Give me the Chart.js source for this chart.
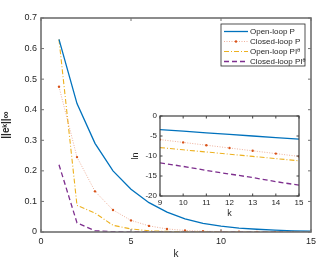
<!DOCTYPE html>
<html>
<head>
<meta charset="utf-8">
<script src="https://cdn.jsdelivr.net/npm/chart.js@4.4.1/dist/chart.umd.min.js"></script>
<style>
  body { margin: 0; background: #fff; }
  #wrap { position: relative; width: 323px; height: 264px; }
  #mainChart { position: absolute; left: 0; top: 0; }
  #insetChart { position: absolute; left: 130px; top: 105px; }
</style>
</head>
<body>
<div id="wrap">
  <canvas id="mainChart" width="323" height="264"></canvas>
  <canvas id="insetChart" width="180" height="115"></canvas>
</div>
<script>
// main plot, k = 1..15
const kValues = [1, 2, 3, 4, 5, 6, 7, 8, 9, 10, 11, 12, 13, 14, 15];
const openLoopP = [0.63, 0.42, 0.29, 0.20, 0.14, 0.096, 0.065, 0.043, 0.028, 0.019, 0.013, 0.009, 0.006, 0.004, 0.003];
const closedLoopP = [0.475, 0.245, 0.133, 0.072, 0.038, 0.02, 0.01, 0.005, 0.0025, 0.0012, 0.0006, 0.0003, 0.00015, 0.0001, 0.00005];
const openLoopPI = [0.63, 0.087, 0.062, 0.022, 0.01, 0.004, 0.002, 0.001, 0.0004, 0.0002, 0.0001, 0.00005, 0.00003, 0.00002, 0.00001];
const closedLoopPI = [0.22, 0.03, 0.004, 0.001, 0.0003, 0.0001, 0.00003, 0.00001, 0, 0, 0, 0, 0, 0, 0];

// inset, ln of the error for k = 9..15
const insetK = [9, 10, 11, 12, 13, 14, 15];
const lnOpenLoopP = [-3.4, -3.8, -4.2, -4.6, -5.0, -5.4, -5.8];
const lnClosedLoopP = [-5.9, -6.6, -7.3, -8.0, -8.7, -9.4, -10.1];
const lnOpenLoopPI = [-7.9, -8.45, -9.0, -9.55, -10.1, -10.65, -11.2];
const lnClosedLoopPI = [-11.7, -12.6, -13.6, -14.5, -15.4, -16.4, -17.3];

const seriesNames = ['Open-loop P', 'Closed-loop P', 'Open-loop PIᶿ', 'Closed-loop PIᶿ'];
const colors = ['#0072BD', 'rgba(224, 110, 70, 0.6)', '#EDB120', '#7E2F8E'];
const markerColors = ['#0072BD', '#D95319', '#EDB120', '#7E2F8E'];
const dashes = [[], [1, 1.5], [5, 2, 1, 2], [5, 3]];
const lineWidths = [1.3, 0.9, 1.1, 1.3];

const FONT = "'Liberation Sans', Arial, sans-serif";
const TEXT = '#262626';

function toPoints(xs, ys) {
  return xs.map((x, i) => ({ x: x, y: ys[i] }));
}

function makeDatasets(xs, lists) {
  return lists.map((ys, i) => ({
    label: seriesNames[i],
    data: toPoints(xs, ys),
    borderColor: colors[i],
    backgroundColor: markerColors[i],
    pointBackgroundColor: markerColors[i],
    borderDash: dashes[i],
    borderWidth: lineWidths[i],
    pointRadius: i === 1 ? 1.2 : 0,
    pointBorderWidth: 0,
    fill: false,
    tension: 0
  }));
}

// axes box with inward ticks on all four sides, like the original figure
const boxPlugin = {
  id: 'box',
  afterDraw(chart, args, opts) {
    const { ctx, chartArea: a, scales: { x, y } } = chart;
    const len = opts.tickLen || 3;
    ctx.save();
    ctx.strokeStyle = opts.color;
    ctx.lineWidth = 1;
    ctx.beginPath();
    x.ticks.forEach(t => {
      const px = x.getPixelForValue(t.value);
      ctx.moveTo(px, a.bottom); ctx.lineTo(px, a.bottom - len);
      ctx.moveTo(px, a.top); ctx.lineTo(px, a.top + len);
    });
    y.ticks.forEach(t => {
      const py = y.getPixelForValue(t.value);
      ctx.moveTo(a.left, py); ctx.lineTo(a.left + len, py);
      ctx.moveTo(a.right, py); ctx.lineTo(a.right - len, py);
    });
    ctx.stroke();
    ctx.lineWidth = opts.width;
    ctx.strokeRect(a.left, a.top, a.right - a.left, a.bottom - a.top);
    ctx.restore();
  }
};

const whiteAreaPlugin = {
  id: 'whiteArea',
  beforeDraw(chart) {
    const { ctx, chartArea: a } = chart;
    ctx.save();
    ctx.fillStyle = '#fff';
    ctx.fillRect(a.left, a.top, a.right - a.left, a.bottom - a.top);
    ctx.restore();
  }
};

const boxLegendPlugin = {
  id: 'boxLegend',
  afterDraw(chart) {
    const ctx = chart.ctx;
    const left = 221, top = 24, w = 84, h = 42;
    ctx.save();
    ctx.fillStyle = '#fff';
    ctx.fillRect(left, top, w, h);
    ctx.strokeStyle = '#262626';
    ctx.lineWidth = 0.8;
    ctx.strokeRect(left, top, w, h);
    ctx.font = '8px ' + FONT;
    ctx.textBaseline = 'middle';
    chart.data.datasets.forEach((ds, i) => {
      const yy = top + 7.5 + i * 10;
      ctx.strokeStyle = ds.borderColor;
      ctx.lineWidth = ds.borderWidth;
      ctx.setLineDash(ds.borderDash);
      ctx.beginPath();
      ctx.moveTo(left + 3, yy);
      ctx.lineTo(left + 27, yy);
      ctx.stroke();
      ctx.setLineDash([]);
      if (ds.pointRadius > 0) {
        ctx.fillStyle = ds.pointBackgroundColor;
        ctx.beginPath();
        ctx.arc(left + 15, yy, ds.pointRadius, 0, Math.PI * 2);
        ctx.fill();
      }
      ctx.fillStyle = TEXT;
      ctx.fillText(ds.label, left + 29, yy);
    });
    ctx.restore();
  }
};

new Chart(document.getElementById('mainChart'), {
  type: 'line',
  data: {
    datasets: makeDatasets(kValues, [openLoopP, closedLoopP, openLoopPI, closedLoopPI])
  },
  options: {
    responsive: false,
    animation: false,
    layout: { padding: { left: 0, top: 18, right: 12, bottom: 0 } },
    plugins: {
      legend: { display: false },
      tooltip: { enabled: false },
      box: { color: '#707070', width: 1.6, tickLen: 3 }
    },
    scales: {
      x: {
        type: 'linear',
        min: 0, max: 15,
        afterFit: s => { s.height = 32; },
        ticks: { stepSize: 5, color: TEXT, font: { family: FONT, size: 9 }, padding: 4, maxRotation: 0 },
        grid: { display: false, drawTicks: false },
        border: { display: false },
        title: { display: true, text: 'k', color: TEXT, font: { family: FONT, size: 10 }, padding: { top: 2, bottom: 4 } }
      },
      y: {
        min: 0, max: 0.7,
        afterFit: s => { s.width = 41; },
        ticks: { stepSize: 0.1, color: TEXT, font: { family: FONT, size: 9 }, padding: 4 },
        grid: { display: false, drawTicks: false },
        border: { display: false },
        title: { display: true, text: '||eᵏ||∞', color: TEXT, font: { family: FONT, size: 10, weight: 'bold' }, padding: { top: 0, bottom: 2 } }
      }
    }
  },
  plugins: [boxPlugin, boxLegendPlugin]
});

new Chart(document.getElementById('insetChart'), {
  type: 'line',
  data: {
    datasets: makeDatasets(insetK, [lnOpenLoopP, lnClosedLoopP, lnOpenLoopPI, lnClosedLoopPI])
  },
  options: {
    responsive: false,
    animation: false,
    layout: { padding: { left: 0, top: 11, right: 11, bottom: 0 } },
    plugins: {
      legend: { display: false },
      tooltip: { enabled: false },
      box: { color: '#404040', width: 1.2, tickLen: 2.5 }
    },
    scales: {
      x: {
        type: 'linear',
        min: 9, max: 15,
        afterFit: s => { s.height = 24; },
        ticks: { stepSize: 1, color: TEXT, font: { family: FONT, size: 8 }, padding: 2, maxRotation: 0 },
        grid: { display: false, drawTicks: false },
        border: { display: false },
        title: { display: true, text: 'k', color: TEXT, font: { family: FONT, size: 9 }, padding: { top: 0, bottom: 1 } }
      },
      y: {
        min: -20, max: 0,
        afterFit: s => { s.width = 30; },
        ticks: { stepSize: 5, color: TEXT, font: { family: FONT, size: 8 }, padding: 3 },
        grid: { display: false, drawTicks: false },
        border: { display: false },
        title: { display: true, text: 'ln', color: TEXT, font: { family: FONT, size: 9 }, padding: { top: 0, bottom: 1 } }
      }
    }
  },
  plugins: [whiteAreaPlugin, boxPlugin]
});
</script>
</body>
</html>
